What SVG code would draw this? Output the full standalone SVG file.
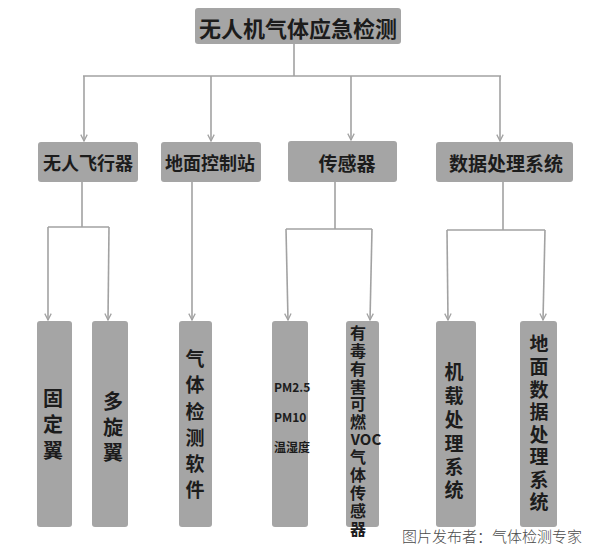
<svg xmlns="http://www.w3.org/2000/svg" width="589" height="548" viewBox="0 0 589 548">
<style>
.box{fill:#a5a5a5;}
.t{font-family:"Noto Sans CJK SC","Liberation Sans",sans-serif;font-weight:bold;fill:#1c1c1c;text-anchor:middle;dominant-baseline:central;}
.l{fill:none;stroke:#a2a2a2;stroke-width:1.6;}
.a{marker-end:url(#arr);}
.wm{font-family:"Noto Sans CJK SC","Liberation Sans",sans-serif;font-weight:300;fill:#4a4a4a;text-anchor:middle;dominant-baseline:central;font-size:15px;}
</style>
<defs>
<marker id="arr" viewBox="0 0 10 10" refX="9" refY="5" markerWidth="8" markerHeight="8" markerUnits="userSpaceOnUse" orient="auto">
<path d="M1,1 L9,5 L1,9" fill="none" stroke="#a2a2a2" stroke-width="1.6"/>
</marker>
</defs>
<rect width="589" height="548" fill="#ffffff"/>
<g id="connectors">
<path class="l" d="M294,44 V76 M83,76 H501"/>
<path class="l a" d="M84,76 V141"/>
<path class="l a" d="M211,76 V141"/>
<path class="l a" d="M351,76 V140"/>
<path class="l a" d="M500,76 V141"/>
<path class="l" d="M82,182 V227 M48,227 H109"/>
<path class="l a" d="M48,227 V320"/>
<path class="l a" d="M109,227 L108,320"/>
<path class="l a" d="M192,182 V320"/>
<path class="l" d="M335,182 V229 M286,229 H372"/>
<path class="l a" d="M286,229 L288,320"/>
<path class="l a" d="M372,229 L370,320"/>
<path class="l" d="M503,182 V230 M447,230 H545"/>
<path class="l a" d="M447,230 L448,320"/>
<path class="l a" d="M545,230 L543,320"/>
</g>
<g id="root">
<rect class="box" x="195" y="8" width="206" height="36" rx="3"/>
<text class="t" x="298" y="27" font-size="22">无人机气体应急检测</text>
</g>
<g id="uav">
<rect class="box" x="38" y="142" width="100" height="40" rx="3"/>
<text class="t" x="88" y="162" font-size="18">无人飞行器</text>
</g>
<g id="ground">
<rect class="box" x="161" y="142" width="100" height="40" rx="3"/>
<text class="t" x="210" y="162" font-size="18">地面控制站</text>
</g>
<g id="sensor">
<rect class="box" x="288" y="141" width="109" height="41" rx="3"/>
<text class="t" x="347" y="162" font-size="19">传感器</text>
</g>
<g id="data">
<rect class="box" x="436" y="142" width="137" height="40" rx="3"/>
<text class="t" x="506" y="162" font-size="19">数据处理系统</text>
</g>
<g id="fixed">
<rect class="box" x="37" y="321" width="35" height="206" rx="3"/>
<text class="t" font-size="20"><tspan x="53" y="397">固</tspan><tspan x="53" y="423">定</tspan><tspan x="53" y="449">翼</tspan></text>
</g>
<g id="multi">
<rect class="box" x="92" y="321" width="36" height="206" rx="3"/>
<text class="t" font-size="20"><tspan x="113" y="400">多</tspan><tspan x="113" y="426">旋</tspan><tspan x="113" y="451">翼</tspan></text>
</g>
<g id="software">
<rect class="box" x="179" y="321" width="33" height="206" rx="3"/>
<text class="t" font-size="19"><tspan x="195" y="357">气</tspan><tspan x="195" y="383">体</tspan><tspan x="195" y="410">检</tspan><tspan x="195" y="436">测</tspan><tspan x="195" y="462">软</tspan><tspan x="195" y="488">件</tspan></text>
</g>
<g id="pm">
<rect class="box" x="272" y="321" width="36" height="206" rx="3"/>
<text class="t" font-size="12" style="text-anchor:start"><tspan x="274" y="386">PM2.5</tspan><tspan x="274" y="416">PM10</tspan><tspan x="274" y="446">温湿度</tspan></text>
</g>
<g id="voc">
<rect class="box" x="346" y="321" width="33" height="206" rx="3"/>
<text class="t" font-size="16"><tspan x="358" y="332">有</tspan><tspan x="358" y="350">毒</tspan><tspan x="358" y="368">有</tspan><tspan x="358" y="386">害</tspan><tspan x="358" y="403">可</tspan><tspan x="358" y="421">燃</tspan><tspan x="366" y="438" font-size="15">VOC</tspan><tspan x="358" y="456">气</tspan><tspan x="358" y="474">体</tspan><tspan x="358" y="492">传</tspan><tspan x="358" y="510">感</tspan><tspan x="358" y="528">器</tspan></text>
</g>
<g id="onboard">
<rect class="box" x="436" y="321" width="40" height="206" rx="3"/>
<text class="t" font-size="19"><tspan x="454" y="370">机</tspan><tspan x="454" y="394">载</tspan><tspan x="454" y="418">处</tspan><tspan x="454" y="442">理</tspan><tspan x="454" y="465">系</tspan><tspan x="454" y="488">统</tspan></text>
</g>
<g id="grounddata">
<rect class="box" x="520" y="321" width="37" height="206" rx="3"/>
<text class="t" font-size="19"><tspan x="539" y="342">地</tspan><tspan x="539" y="365">面</tspan><tspan x="539" y="388">数</tspan><tspan x="539" y="410">据</tspan><tspan x="539" y="433">处</tspan><tspan x="539" y="455">理</tspan><tspan x="539" y="478">系</tspan><tspan x="539" y="500">统</tspan></text>
</g>
<text class="wm" x="492" y="535">图片发布者：气体检测专家</text>
</svg>
